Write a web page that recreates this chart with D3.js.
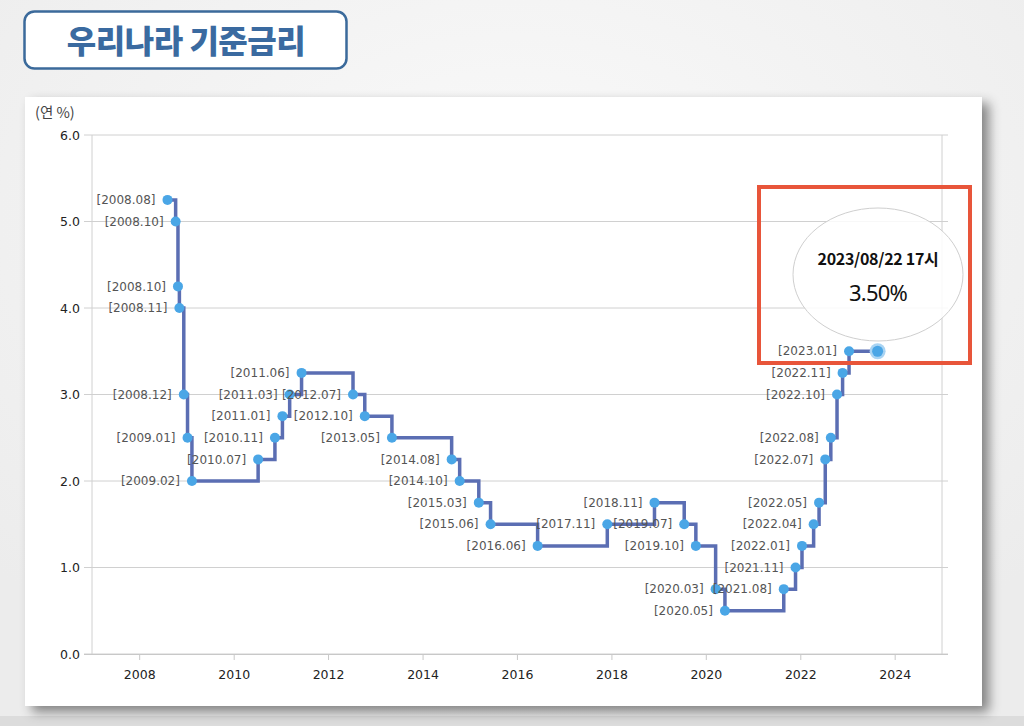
<!DOCTYPE html>
<html><head><meta charset="utf-8">
<script src="https://cdn.jsdelivr.net/npm/d3@7"></script>
<style>
html,body{margin:0;padding:0;background:#f3f3f3;}
svg{display:block;}
</style></head>
<body>
<svg id="c" width="1024" height="726"></svg>
<script>
// ---- data ----
const dates = ["2008-08-07","2008-10-09","2008-10-27","2008-11-07","2008-12-11","2009-01-09","2009-02-12",
"2010-07-09","2010-11-16","2011-01-13","2011-03-10","2011-06-10","2012-07-12","2012-10-11","2013-05-09",
"2014-08-14","2014-10-15","2015-03-12","2015-06-11","2016-06-09","2017-11-30","2018-11-30","2019-07-18",
"2019-10-16","2020-03-17","2020-05-28","2021-08-26","2021-11-25","2022-01-14","2022-04-14","2022-05-26",
"2022-07-13","2022-08-25","2022-10-12","2022-11-24","2023-01-13","2023-08-22"];
const rates = [5.25,5.00,4.25,4.00,3.00,2.50,2.00,2.25,2.50,2.75,3.00,3.25,3.00,2.75,2.50,2.25,2.00,1.75,1.50,
1.25,1.50,1.75,1.50,1.25,0.75,0.50,0.75,1.00,1.25,1.50,1.75,2.25,2.50,3.00,3.25,3.50,3.50];
const pointLabels = ["[2008.08]","[2008.10]","[2008.10]","[2008.11]","[2008.12]","[2009.01]","[2009.02]",
"[2010.07]","[2010.11]","[2011.01]","[2011.03]","[2011.06]","[2012.07]","[2012.10]","[2013.05]",
"[2014.08]","[2014.10]","[2015.03]","[2015.06]","[2016.06]","[2017.11]","[2018.11]","[2019.07]",
"[2019.10]","[2020.03]","[2020.05]","[2021.08]","[2021.11]","[2022.01]","[2022.04]","[2022.05]",
"[2022.07]","[2022.08]","[2022.10]","[2022.11]","[2023.01]",""];
const xTickYears = [2008,2010,2012,2014,2016,2018,2020,2022,2024];
const yTicks = [0,1,2,3,4,5,6];
const titleText = "우리나라 기준금리";
const unitText = "(연 %)";
const tipDate = "2023/08/22 17시";
const tipValue = "3.50%";

const parse = d3.timeParse("%Y-%m-%d");
const data = dates.map((d,i)=>({date:parse(d), v:rates[i], label:pointLabels[i]}));

const svg = d3.select("#c");
const defs = svg.append("defs");
const f = defs.append("filter").attr("id","sh").attr("x","-5%").attr("y","-5%").attr("width","115%").attr("height","115%");
f.append("feDropShadow").attr("dx",7).attr("dy",6).attr("stdDeviation",6).attr("flood-color","#000").attr("flood-opacity",0.45);
const bg = defs.append("radialGradient").attr("id","bg").attr("cx","50%").attr("cy","30%").attr("r","70%");
bg.append("stop").attr("offset","0%").attr("stop-color","#fafafa");
bg.append("stop").attr("offset","100%").attr("stop-color","#ececec");

// background
svg.append("rect").attr("width",1024).attr("height",726).attr("fill","url(#bg)");
svg.append("rect").attr("x",0).attr("y",716).attr("width",1024).attr("height",10).attr("fill","#dcdcdc");

// title box
svg.append("rect").attr("x",24.5).attr("y",11.5).attr("width",322).attr("height",57).attr("rx",10)
  .attr("fill","#fff").attr("stroke","#3b6a9b").attr("stroke-width",2.5);
svg.append("text").attr("x",186).attr("y",53).attr("text-anchor","middle")
  .attr("font-family","'Noto Sans CJK KR'").attr("font-weight",900).attr("font-size",32)
  .attr("letter-spacing",-0.5).attr("fill","#3a6aa0").text(titleText);

// panel
svg.append("rect").attr("x",25).attr("y",97).attr("width",957).attr("height",609)
  .attr("fill","#fff").attr("filter","url(#sh)");

// scales
const x = d3.scaleTime().domain([new Date(2007,0,1), new Date(2025,0,1)]).range([92,942]);
const y = d3.scaleLinear().domain([0,6]).range([654,135]);

// grid
const g = svg.append("g");
g.selectAll("line.h").data(yTicks).join("line")
  .attr("x1",84).attr("x2",948).attr("y1",d=>y(d)).attr("y2",d=>y(d))
  .attr("stroke","#d0d0d0").attr("stroke-width",1);
g.selectAll("line.v").data([x.domain()[0], x.domain()[1]]).join("line")
  .attr("x1",d=>x(d)).attr("x2",d=>x(d)).attr("y1",y(6)).attr("y2",y(0))
  .attr("stroke","#d0d0d0").attr("stroke-width",1);

// y axis labels
const yAxis = d3.axisLeft(y).tickValues(yTicks).tickFormat(d3.format(".1f")).tickSize(0).tickPadding(12);
const ya = svg.append("g").attr("transform","translate(92,0)").call(yAxis);
ya.select(".domain").remove();
ya.selectAll("text").attr("font-family","'DejaVu Sans'").attr("font-size",12.5).attr("fill","#222");

// x axis
const xAxis = d3.axisBottom(x).tickValues(xTickYears.map(yr=>new Date(yr,0,1)))
  .tickFormat(d3.timeFormat("%Y")).tickSize(6).tickPadding(10);
const xa = svg.append("g").attr("transform","translate(0,654)").call(xAxis);
xa.select(".domain").attr("d","M84,0.5H948").attr("stroke","#c8c8c8");
xa.selectAll(".tick line").attr("stroke","#c8c8c8");
xa.selectAll("text").attr("font-family","'DejaVu Sans'").attr("font-size",12.5).attr("fill","#222");

svg.append("text").attr("x",35).attr("y",118).attr("font-family","'Noto Sans CJK KR'")
  .attr("font-size",14.5).attr("fill","#444").text(unitText);

// step line
const line = d3.line().x(d=>x(d.date)).y(d=>y(d.v)).curve(d3.curveStepAfter);
svg.append("path").datum(data).attr("d",line).attr("fill","none")
  .attr("stroke","#5b6eb3").attr("stroke-width",3.5);

// points (except last highlighted)
const normal = data.slice(0,-1);
svg.append("g").selectAll("circle").data(normal).join("circle")
  .attr("cx",d=>x(d.date)).attr("cy",d=>y(d.v)).attr("r",5).attr("fill","#4aa6e6");

// labels
svg.append("g").selectAll("text").data(normal).join("text")
  .attr("x",d=>x(d.date)-12).attr("y",d=>y(d.v)).attr("dy","0.35em")
  .attr("text-anchor","end").attr("font-family","'DejaVu Sans'").attr("font-size",12)
  .attr("fill","#555").text(d=>d.label);

// highlighted last point
const last = data[data.length-1];
svg.append("circle").attr("cx",x(last.date)).attr("cy",y(last.v)).attr("r",8).attr("fill","#a9d4f3");
svg.append("circle").attr("cx",x(last.date)).attr("cy",y(last.v)).attr("r",5.5).attr("fill","#4aa6e6");

// tooltip bubble
svg.append("ellipse").attr("cx",878).attr("cy",274.5).attr("rx",85).attr("ry",66.5)
  .attr("fill","#fff").attr("fill-opacity",0.85).attr("stroke","#cfcfcf").attr("stroke-width",1);
svg.append("text").attr("x",878).attr("y",265).attr("text-anchor","middle")
  .attr("font-family","'Noto Sans CJK KR'").attr("font-weight",700).attr("font-size",16)
  .attr("letter-spacing",-0.3).attr("fill","#111").text(tipDate);
svg.append("text").attr("x",878).attr("y",301).attr("text-anchor","middle")
  .attr("font-family","'Noto Sans'").attr("font-size",22).attr("letter-spacing",-0.8)
  .attr("fill","#111").text(tipValue);

// red highlight box
svg.append("rect").attr("x",759).attr("y",187).attr("width",211).attr("height",176)
  .attr("fill","none").attr("stroke","#e8553a").attr("stroke-width",4);
</script>
</body></html>
